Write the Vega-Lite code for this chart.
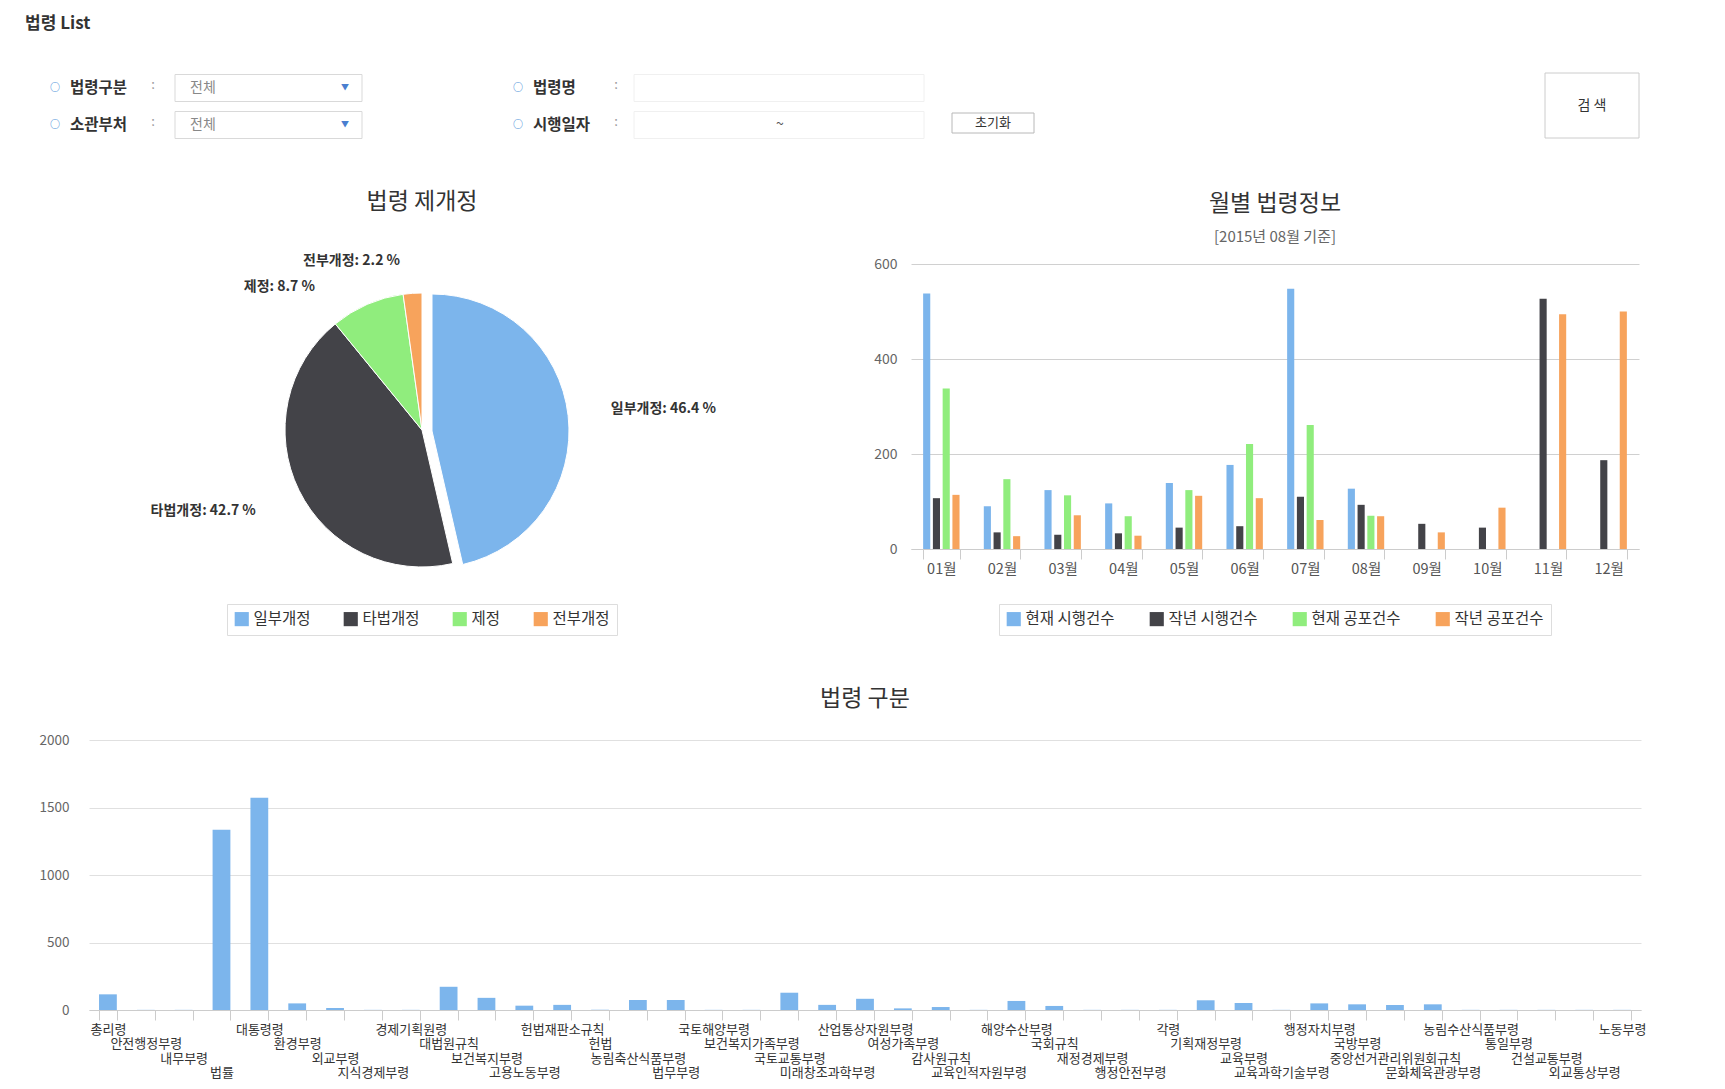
{
  "$schema": "https://vega.github.io/schema/vega-lite/v6.json",
  "background": "white",
  "padding": {"left": 25, "top": 14, "right": 10, "bottom": 5},
  "title": {"text": "법령 List", "anchor": "start", "frame": "bounds", "fontSize": 17, "fontWeight": "bold", "color": "#333333", "offset": 40, "dx": -14},
  "config": {
    "font": "Noto Sans CJK KR",
    "view": {"stroke": null},
    "title": {"font": "Noto Sans CJK KR", "fontWeight": "normal", "color": "#333333"},
    "axis": {"labelFont": "Noto Sans CJK KR"},
    "legend": {"labelFont": "Noto Sans CJK KR", "layout": {"anchor": "middle", "bottom": {"anchor": "middle"}}}
  },
  "resolve": {"scale": {"color": "independent"}, "legend": {"color": "independent"}},
  "spacing": 52,
  "vconcat": [
    {
      "width": 926,
      "height": 37,
      "data": {"values": [
        {"열": "왼쪽", "행": "1", "항목": "법령구분", "값": "전체"},
        {"열": "왼쪽", "행": "2", "항목": "소관부처", "값": "전체"},
        {"열": "오른쪽", "행": "1", "항목": "법령명", "값": ""},
        {"열": "오른쪽", "행": "2", "항목": "시행일자", "값": "~"},
        {"열": "버튼", "행": "2", "항목": "초기화", "값": ""},
        {"열": "버튼", "행": "1", "항목": "검 색", "값": ""}
      ]},
      "encoding": {
        "x": {"field": "열", "type": "nominal", "scale": {"type": "point", "domain": ["왼쪽", "오른쪽", "버튼"], "padding": 0}, "axis": null},
        "y": {"field": "행", "type": "nominal", "scale": {"type": "point", "domain": ["1", "2"], "padding": 0}, "axis": null}
      },
      "layer": [
        {"transform": [{"filter": "datum['열'] === '왼쪽'"}],
         "mark": {"type": "rect", "width": 187, "height": 27, "xOffset": 179.5, "fill": "white", "stroke": "#d9d9d9", "strokeWidth": 1}},
        {"transform": [{"filter": "datum['열'] === '오른쪽'"}],
         "mark": {"type": "rect", "width": 290, "height": 27, "xOffset": 227, "fill": "white", "stroke": "#f0f0f0", "strokeWidth": 1}},
        {"transform": [{"filter": "datum['항목'] === '초기화'"}],
         "mark": {"type": "rect", "width": 82, "height": 20, "xOffset": -22, "yOffset": -2, "fill": "white", "stroke": "#b8b8b8", "strokeWidth": 1}},
        {"transform": [{"filter": "datum['항목'] === '검 색'"}],
         "mark": {"type": "rect", "width": 94, "height": 65, "xOffset": 577, "yOffset": 17.5, "fill": "white", "stroke": "#cccccc", "strokeWidth": 1}},
        {"transform": [{"filter": "datum['열'] !== '버튼'"}],
         "mark": {"type": "text", "text": "○", "dx": -34, "align": "center", "baseline": "middle", "fontSize": 10, "fontWeight": "bold", "color": "#4a90d9"}},
        {"transform": [{"filter": "datum['열'] !== '버튼'"}],
         "mark": {"type": "text", "dx": -19, "align": "left", "baseline": "middle", "fontSize": 15.5, "fontWeight": "bold", "color": "#333333"},
         "encoding": {"text": {"field": "항목"}}},
        {"transform": [{"filter": "datum['열'] !== '버튼'"}],
         "mark": {"type": "text", "text": ":", "dx": 64, "dy": -3, "align": "center", "baseline": "middle", "fontSize": 13, "color": "#999999"}},
        {"transform": [{"filter": "datum['열'] === '왼쪽'"}],
         "mark": {"type": "text", "dx": 101, "align": "left", "baseline": "middle", "fontSize": 14, "color": "#888888"},
         "encoding": {"text": {"field": "값"}}},
        {"transform": [{"filter": "datum['열'] === '왼쪽'"}],
         "mark": {"type": "text", "text": "▼", "dx": 256, "align": "center", "baseline": "middle", "fontSize": 8, "color": "#4a7fd0"}},
        {"transform": [{"filter": "datum['열'] === '오른쪽'"}],
         "mark": {"type": "text", "dx": 228, "align": "center", "baseline": "middle", "fontSize": 14, "color": "#555555"},
         "encoding": {"text": {"field": "값"}}},
        {"transform": [{"filter": "datum['항목'] === '초기화'"}],
         "mark": {"type": "text", "dx": -22, "dy": -2, "align": "center", "baseline": "middle", "fontSize": 13, "color": "#333333"},
         "encoding": {"text": {"field": "항목"}}},
        {"transform": [{"filter": "datum['항목'] === '검 색'"}],
         "mark": {"type": "text", "dx": 577, "dy": 17.5, "align": "center", "baseline": "middle", "fontSize": 14, "color": "#333333"},
         "encoding": {"text": {"field": "항목"}}}
      ]
    },
    {
      "spacing": 118,
      "resolve": {"scale": {"color": "independent"}, "legend": {"color": "independent"}},
      "hconcat": [
        {
          "width": 666,
          "height": 332,
          "title": {"text": "법령 제개정", "fontSize": 23, "offset": 19},
          "data": {"values": [
            {"구분": "일부개정", "비율": 46.4, "순번": 1, "라벨": "일부개정: 46.4 %"},
            {"구분": "타법개정", "비율": 42.7, "순번": 2, "라벨": "타법개정: 42.7 %"},
            {"구분": "제정", "비율": 8.7, "순번": 3, "라벨": "제정: 8.7 %"},
            {"구분": "전부개정", "비율": 2.2, "순번": 4, "라벨": "전부개정: 2.2 %"}
          ]},
          "encoding": {
            "theta": {"field": "비율", "type": "quantitative", "stack": true},
            "order": {"field": "순번", "type": "quantitative"}
          },
          "layer": [
            {
              "mark": {"type": "arc", "outerRadius": 137, "stroke": "white", "strokeWidth": 1},
              "encoding": {
                "color": {"field": "구분", "type": "nominal",
                  "scale": {"domain": ["일부개정", "타법개정", "제정", "전부개정"], "range": ["#7cb5ec", "#434348", "#90ed7d", "#f7a35c"]},
                  "legend": {"title": null, "orient": "bottom", "direction": "horizontal", "offset": 8, "symbolType": "square", "symbolSize": 200, "symbolStrokeWidth": 0, "labelFontSize": 15.5, "labelColor": "#333333", "strokeColor": "#dddddd", "padding": 7, "columnPadding": 32}},
                "opacity": {"condition": {"test": "datum['구분'] === '일부개정'", "value": 0}, "value": 1}
              }
            },
            {
              "mark": {"type": "arc", "outerRadius": 137, "stroke": "white", "strokeWidth": 1, "xOffset": 10, "yOffset": 1},
              "encoding": {
                "color": {"field": "구분", "type": "nominal"},
                "opacity": {"condition": {"test": "datum['구분'] === '일부개정'", "value": 1}, "value": 0}
              }
            },
            {
              "mark": {"type": "text", "radius": 190, "align": "left", "baseline": "middle", "fontSize": 14, "fontWeight": "bold", "color": "#333333"},
              "encoding": {
                "detail": {"field": "구분"},
                "text": {"condition": {"test": "datum['구분'] === '일부개정'", "field": "라벨"}, "value": ""}
              }
            },
            {
              "mark": {"type": "text", "radius": 185, "align": "right", "baseline": "middle", "fontSize": 14, "fontWeight": "bold", "color": "#333333"},
              "encoding": {
                "detail": {"field": "구분"},
                "text": {"condition": {"test": "datum['구분'] === '타법개정'", "field": "라벨"}, "value": ""}
              }
            },
            {
              "mark": {"type": "text", "radius": 160, "dx": -43, "dy": 4, "align": "right", "baseline": "middle", "fontSize": 14, "fontWeight": "bold", "color": "#333333"},
              "encoding": {
                "detail": {"field": "구분"},
                "text": {"condition": {"test": "datum['구분'] === '제정'", "field": "라벨"}, "value": ""}
              }
            },
            {
              "mark": {"type": "text", "radius": 173, "dx": -10, "dy": 4, "align": "right", "baseline": "middle", "fontSize": 14, "fontWeight": "bold", "color": "#333333"},
              "encoding": {
                "detail": {"field": "구분"},
                "text": {"condition": {"test": "datum['구분'] === '전부개정'", "field": "라벨"}, "value": ""}
              }
            }
          ]
        },
        {
          "width": 728,
          "height": 285,
          "title": {"text": "월별 법령정보", "subtitle": "[2015년 08월 기준]", "fontSize": 23, "subtitleFontSize": 15, "subtitleColor": "#666666", "subtitleFont": "Noto Sans CJK KR", "subtitlePadding": 14, "offset": 12},
          "data": {"values": [
            {"월": "01월", "구분": "현재 시행건수", "건수": 538}, {"월": "01월", "구분": "작년 시행건수", "건수": 107}, {"월": "01월", "구분": "현재 공포건수", "건수": 338}, {"월": "01월", "구분": "작년 공포건수", "건수": 114},
            {"월": "02월", "구분": "현재 시행건수", "건수": 90}, {"월": "02월", "구분": "작년 시행건수", "건수": 35}, {"월": "02월", "구분": "현재 공포건수", "건수": 147}, {"월": "02월", "구분": "작년 공포건수", "건수": 27},
            {"월": "03월", "구분": "현재 시행건수", "건수": 124}, {"월": "03월", "구분": "작년 시행건수", "건수": 30}, {"월": "03월", "구분": "현재 공포건수", "건수": 113}, {"월": "03월", "구분": "작년 공포건수", "건수": 71},
            {"월": "04월", "구분": "현재 시행건수", "건수": 96}, {"월": "04월", "구분": "작년 시행건수", "건수": 33}, {"월": "04월", "구분": "현재 공포건수", "건수": 69}, {"월": "04월", "구분": "작년 공포건수", "건수": 28},
            {"월": "05월", "구분": "현재 시행건수", "건수": 139}, {"월": "05월", "구분": "작년 시행건수", "건수": 45}, {"월": "05월", "구분": "현재 공포건수", "건수": 124}, {"월": "05월", "구분": "작년 공포건수", "건수": 112},
            {"월": "06월", "구분": "현재 시행건수", "건수": 177}, {"월": "06월", "구분": "작년 시행건수", "건수": 48}, {"월": "06월", "구분": "현재 공포건수", "건수": 221}, {"월": "06월", "구분": "작년 공포건수", "건수": 107},
            {"월": "07월", "구분": "현재 시행건수", "건수": 548}, {"월": "07월", "구분": "작년 시행건수", "건수": 110}, {"월": "07월", "구분": "현재 공포건수", "건수": 261}, {"월": "07월", "구분": "작년 공포건수", "건수": 61},
            {"월": "08월", "구분": "현재 시행건수", "건수": 127}, {"월": "08월", "구분": "작년 시행건수", "건수": 93}, {"월": "08월", "구분": "현재 공포건수", "건수": 70}, {"월": "08월", "구분": "작년 공포건수", "건수": 69},
            {"월": "09월", "구분": "현재 시행건수", "건수": 0}, {"월": "09월", "구분": "작년 시행건수", "건수": 53}, {"월": "09월", "구분": "현재 공포건수", "건수": 0}, {"월": "09월", "구분": "작년 공포건수", "건수": 35},
            {"월": "10월", "구분": "현재 시행건수", "건수": 0}, {"월": "10월", "구분": "작년 시행건수", "건수": 45}, {"월": "10월", "구분": "현재 공포건수", "건수": 0}, {"월": "10월", "구분": "작년 공포건수", "건수": 87},
            {"월": "11월", "구분": "현재 시행건수", "건수": 0}, {"월": "11월", "구분": "작년 시행건수", "건수": 527}, {"월": "11월", "구분": "현재 공포건수", "건수": 0}, {"월": "11월", "구분": "작년 공포건수", "건수": 494},
            {"월": "12월", "구분": "현재 시행건수", "건수": 0}, {"월": "12월", "구분": "작년 시행건수", "건수": 187}, {"월": "12월", "구분": "현재 공포건수", "건수": 0}, {"월": "12월", "구분": "작년 공포건수", "건수": 500}
          ]},
          "mark": {"type": "bar"},
          "encoding": {
            "x": {"field": "월", "type": "nominal", "sort": null,
              "scale": {"paddingInner": 0.4, "paddingOuter": 0.2},
              "axis": {"title": null, "labelAngle": 0, "tickBand": "extent", "tickSize": 10, "tickColor": "#cccccc", "domainColor": "#cccccc", "labelFontSize": 14.5, "labelColor": "#555555", "labelPadding": 3}},
            "xOffset": {"field": "구분", "type": "nominal", "sort": ["현재 시행건수", "작년 시행건수", "현재 공포건수", "작년 공포건수"], "scale": {"paddingInner": 0.27}},
            "y": {"field": "건수", "type": "quantitative", "scale": {"domain": [0, 600]},
              "axis": {"title": null, "values": [0, 200, 400, 600], "grid": true, "gridColor": "#d0d0d0", "domain": false, "ticks": false, "labelColor": "#666666", "labelFontSize": 14, "labelPadding": 14}},
            "color": {"field": "구분", "type": "nominal",
              "scale": {"domain": ["현재 시행건수", "작년 시행건수", "현재 공포건수", "작년 공포건수"], "range": ["#7cb5ec", "#434348", "#90ed7d", "#f7a35c"]},
              "legend": {"title": null, "orient": "bottom", "direction": "horizontal", "offset": 28, "symbolType": "square", "symbolSize": 200, "symbolStrokeWidth": 0, "labelFontSize": 15.5, "labelColor": "#333333", "strokeColor": "#dddddd", "padding": 7, "columnPadding": 34}}
          }
        }
      ]
    },
    {
      "width": 1552,
      "height": 270,
      "title": {"text": "법령 구분", "fontSize": 23, "offset": 22},
      "data": {"values": [
        {"구분": "총리령", "건수": 116},
        {"구분": "안전행정부령", "건수": 1},
        {"구분": "내무부령", "건수": 1},
        {"구분": "법률", "건수": 1335},
        {"구분": "대통령령", "건수": 1572},
        {"구분": "환경부령", "건수": 49},
        {"구분": "외교부령", "건수": 15},
        {"구분": "지식경제부령", "건수": 1},
        {"구분": "경제기획원령", "건수": 1},
        {"구분": "대법원규칙", "건수": 172},
        {"구분": "보건복지부령", "건수": 90},
        {"구분": "고용노동부령", "건수": 32},
        {"구분": "헌법재판소규칙", "건수": 38},
        {"구분": "헌법", "건수": 1},
        {"구분": "농림축산식품부령", "건수": 74},
        {"구분": "법무부령", "건수": 74},
        {"구분": "국토해양부령", "건수": 1},
        {"구분": "보건복지가족부령", "건수": 1},
        {"구분": "국토교통부령", "건수": 128},
        {"구분": "미래창조과학부령", "건수": 38},
        {"구분": "산업통상자원부령", "건수": 83},
        {"구분": "여성가족부령", "건수": 12},
        {"구분": "감사원규칙", "건수": 22},
        {"구분": "교육인적자원부령", "건수": 1},
        {"구분": "해양수산부령", "건수": 67},
        {"구분": "국회규칙", "건수": 30},
        {"구분": "재정경제부령", "건수": 1},
        {"구분": "행정안전부령", "건수": 1},
        {"구분": "각령", "건수": 1},
        {"구분": "기획재정부령", "건수": 72},
        {"구분": "교육부령", "건수": 52},
        {"구분": "교육과학기술부령", "건수": 1},
        {"구분": "행정자치부령", "건수": 49},
        {"구분": "국방부령", "건수": 42},
        {"구분": "중앙선거관리위원회규칙", "건수": 37},
        {"구분": "문화체육관광부령", "건수": 42},
        {"구분": "농림수산식품부령", "건수": 1},
        {"구분": "통일부령", "건수": 1},
        {"구분": "건설교통부령", "건수": 1},
        {"구분": "외교통상부령", "건수": 1},
        {"구분": "노동부령", "건수": 1}
      ]},
      "mark": {"type": "bar", "color": "#7cb5ec"},
      "encoding": {
        "x": {"field": "구분", "type": "nominal", "sort": null,
          "scale": {"paddingInner": 0.53, "paddingOuter": 0.265},
          "axis": {"title": null, "labelAngle": 0, "tickBand": "extent", "tickSize": 10, "tickColor": "#cccccc", "domainColor": "#cccccc", "labelFontSize": 13, "labelColor": "#333333", "labelPadding": 3, "labelLimit": 300, "labelLineHeight": 14.5,
            "labelExpr": "[[datum.label], ['\u200b', datum.label], ['\u200b', '\u200b', datum.label], ['\u200b', '\u200b', '\u200b', datum.label]][round(datum.index * 40) % 4]"}},
        "y": {"field": "건수", "type": "quantitative", "scale": {"domain": [0, 2000]},
          "axis": {"title": null, "values": [0, 500, 1000, 1500, 2000], "format": "d", "grid": true, "gridColor": "#e0e0e0", "domain": false, "ticks": false, "labelColor": "#666666", "labelFontSize": 13.5, "labelPadding": 20}}
      }
    }
  ]
}
